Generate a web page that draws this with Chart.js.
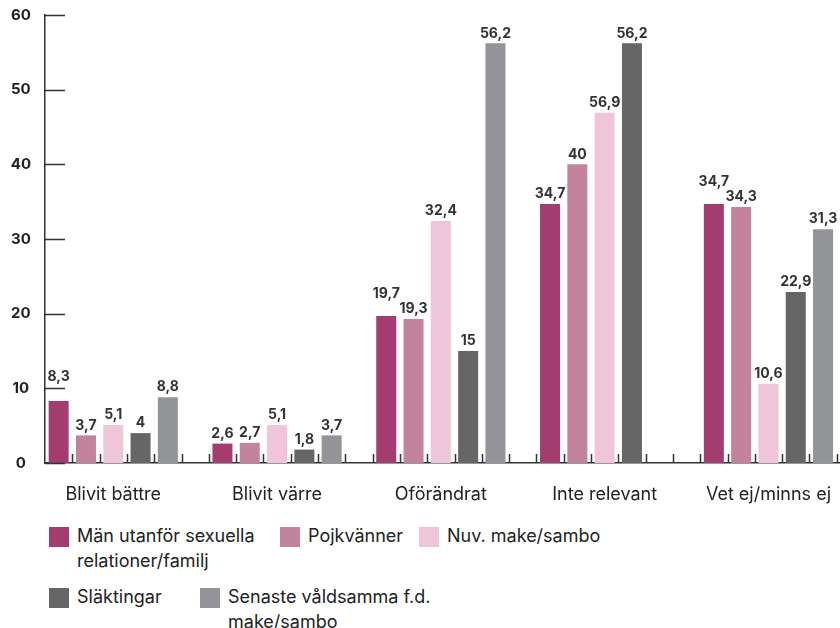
<!DOCTYPE html>
<html>
<head>
<meta charset="utf-8">
<script src="https://cdn.jsdelivr.net/npm/chart.js@4/dist/chart.umd.min.js"></script>
<style>
  body { margin: 0; background: #fff; font-family: Inter, 'Noto Sans', sans-serif; color: #222; }
  .wrap { position: relative; width: 840px; height: 628px; overflow: hidden; }
  #chart { position: absolute; left: 0; top: 0; }
  .legend-item { position: absolute; display: flex; align-items: flex-start; font-size: 18px; line-height: 25px; white-space: pre-line; }
  .legend-box { width: 20px; height: 20px; margin-top: 4px; margin-right: 8px; flex: none; }
</style>
</head>
<body>
<div class="wrap">
  <canvas id="chart" width="866" height="508"></canvas>
  <div id="legend"></div>
</div>
<script>
const categories = ['Blivit bättre', 'Blivit värre', 'Oförändrat', 'Inte relevant', 'Vet ej/minns ej'];
const seriesNames = [
  'Män utanför sexuella\nrelationer/familj',
  'Pojkvänner',
  'Nuv. make/sambo',
  'Släktingar',
  'Senaste våldsamma f.d.\nmake/sambo',
];
const manValues = [8.3, 2.6, 19.7, 34.7, 34.7];
const pojkValues = [3.7, 2.7, 19.3, 40, 34.3];
const nuvValues = [5.1, 5.1, 32.4, 46.9, 10.6];
const slaktValues = [4, 1.8, 15, 56.2, 22.9];
const senasteValues = [8.8, 3.7, 56.2, null, 31.3];
const yTicks = [0, 10, 20, 30, 40, 50, 60];
// key is "category-series"; the source prints 56,9 above a bar drawn at ~46,9
const labelOverrides = { '3-2': '56,9' };
// labels the source pushes up to clear a tick or the neighbour's label
const labelLift = { '0-0': 14, '2-0': 12, '4-0': 12 };

const SERIES = [manValues, pojkValues, nuvValues, slaktValues, senasteValues];
const COLORS = ['#a33d6f', '#c2849d', '#eec5d9', '#666667', '#939497'];
const SLOTS = 6; // 5 bars + 1 empty slot per category
const AXIS_COLOR = '#333';
const TEXT_COLOR = '#222';

const slotLabels = [];
categories.forEach(cat => {
  for (let i = 0; i < SLOTS; i++) slotLabels.push(i === 2 ? cat : '');
});

const datasets = SERIES.map((values, j) => {
  const data = new Array(categories.length * SLOTS).fill(null);
  values.forEach((v, k) => { data[k * SLOTS + j] = v; });
  return {
    label: seriesNames[j],
    data,
    backgroundColor: COLORS[j],
    grouped: false,
    barPercentage: 0.733,
    categoryPercentage: 1,
  };
});

const fmt = v => String(v).replace('.', ',');

const valueLabels = {
  id: 'valueLabels',
  afterDatasetsDraw: chart => {
    const ctx = chart.ctx;
    ctx.save();
    ctx.font = 'bold 14px Inter, sans-serif';
    ctx.fillStyle = '#333';
    ctx.textAlign = 'center';
    ctx.textBaseline = 'bottom';
    chart.data.datasets.forEach((ds, j) => {
      chart.getDatasetMeta(j).data.forEach((bar, i) => {
        const v = ds.data[i];
        if (v === null) return;
        const key = `${Math.floor(i / SLOTS)}-${j}`;
        const text = labelOverrides[key] || fmt(v);
        ctx.fillText(text, bar.x, bar.y - 3 - (labelLift[key] || 0));
      });
    });
    ctx.restore();
  },
};

const innerTicks = {
  id: 'innerTicks',
  afterDraw: chart => {
    const ctx = chart.ctx;
    const { x, y } = chart.scales;
    const area = chart.chartArea;
    ctx.save();
    ctx.strokeStyle = AXIS_COLOR;
    ctx.lineWidth = 1.5;
    ctx.beginPath();
    yTicks.forEach(t => {
      const py = Math.round(y.getPixelForValue(t)) + 0.5;
      ctx.moveTo(area.left, py);
      ctx.lineTo(area.left + 20, py);
    });
    const n = slotLabels.length;
    for (let i = 1; i < n; i++) {
      const px = Math.round((x.getPixelForTick(i - 1) + x.getPixelForTick(i)) / 2) + 0.5;
      ctx.moveTo(px, area.bottom);
      ctx.lineTo(px, area.bottom - 9);
    }
    ctx.stroke();
    ctx.restore();
  },
};

new Chart(document.getElementById('chart'), {
  type: 'bar',
  data: { labels: slotLabels, datasets },
  plugins: [valueLabels, innerTicks],
  options: {
    responsive: false,
    animation: false,
    layout: { padding: { top: 7, right: 2, left: 0, bottom: 0 } },
    plugins: { legend: { display: false }, tooltip: { enabled: false } },
    scales: {
      x: {
        grid: { display: false },
        border: { display: true, color: AXIS_COLOR, width: 1.5 },
        ticks: {
          autoSkip: false,
          maxRotation: 0,
          minRotation: 0,
          padding: 13,
          color: TEXT_COLOR,
          font: { size: 18, family: 'Inter' },
        },
        afterFit: scale => { scale.height = 45; },
      },
      y: {
        min: 0,
        max: 60,
        grid: { display: false },
        border: { display: true, color: AXIS_COLOR, width: 1.5 },
        ticks: {
          stepSize: 10,
          crossAlign: 'center',
          padding: 6,
          color: TEXT_COLOR,
          font: { size: 15, weight: 'bold', family: 'Inter' },
        },
        afterFit: scale => { scale.width = 45; },
      },
    },
  },
});

// html legend, two rows like the source
const LEGEND_POS = [
  { left: 49, top: 523 }, { left: 280, top: 523 }, { left: 419, top: 523 },
  { left: 49, top: 584 }, { left: 200, top: 584 },
];
const legend = document.getElementById('legend');
seriesNames.forEach((name, j) => {
  const item = document.createElement('div');
  item.className = 'legend-item';
  item.style.left = LEGEND_POS[j].left + 'px';
  item.style.top = LEGEND_POS[j].top + 'px';
  const box = document.createElement('span');
  box.className = 'legend-box';
  box.style.background = COLORS[j];
  const text = document.createElement('span');
  text.textContent = name;
  item.append(box, text);
  legend.appendChild(item);
});
</script>
</body>
</html>
